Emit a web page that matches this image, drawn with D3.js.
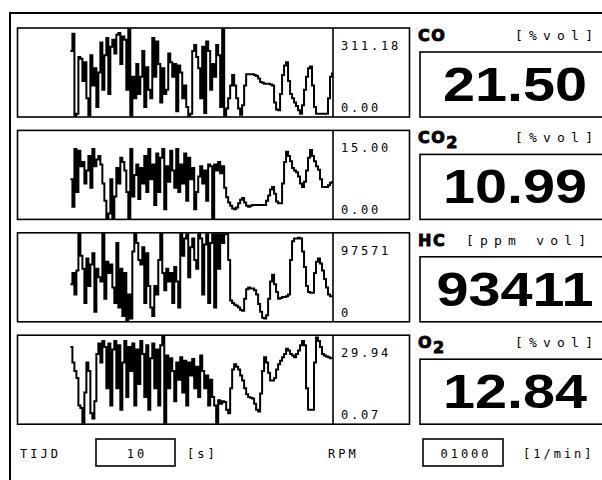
<!DOCTYPE html>
<html>
<head>
<meta charset="utf-8">
<script src="https://cdn.jsdelivr.net/npm/d3@7"></script>
<style>
  body { margin: 0; background: #fff; }
</style>
</head>
<body>
<div id="chart"></div>
<script>
// PANEL TEXTS
var gasNames = ["CO", "CO", "HC", "O"];
var gasSub = ["", "2", "", "2"];
var gasUnits = ["[%vol]", "[%vol]", "[ppm vol]", "[%vol]"];
var readings = ["21.50", "10.99", "93411", "12.84"];
var scaleMax = ["311.18", "15.00", "97571", "29.94"];
var scaleMin = ["0.00", "0.00", "0", "0.07"];

// TRACES, in % of full scale, newest sample last
var coTrace = [75, 95, 0, 2, 68, 66, 40, 62, 20, 0, 70, 35, 55, 10, 50, 85, 30, 70, 90, 25,
  80, 88, 72, 94, 96, 60, 92, 88, 30, 100, 0, 45, 20, 60, 25, 45, 75, 10, 56, 30,
  20, 90, 45, 86, 60, 15, 55, 25, 30, 72, 62, 45, 60, 5, 58, 50, 20, 35, 10, 0,
  2, 75, 82, 68, 55, 20, 80, 3, 86, 75, 30, 60, 45, 82, 70, 10, 100, 0,
  8, 20, 35, 47, 35, 20, 8, 1, 12, 35, 48, 48, 48, 48, 47, 46, 43, 39, 38, 37,
  37, 37, 36, 35, 15, 7, 6, 25, 47, 58, 62, 40, 25, 20, 15, 11, 6, 2, 12, 30,
  45, 55, 57, 35, 10, 2, 2, 2, 2, 2, 2, 20, 45, 50];

var co2Trace = [45, 13, 80, 30, 78, 60, 65, 40, 55, 72, 35, 80, 60, 68, 72, 62, 40, 20, 0, 5,
  45, 0, 25, 58, 40, 70, 65, 55, 30, 0, 80, 25, 50, 62, 22, 58, 40, 72, 30, 80,
  45, 62, 15, 75, 30, 70, 80, 10, 60, 42, 78, 55, 35, 80, 30, 62, 40, 75, 20, 70,
  45, 58, 10, 30, 48, 60, 40, 55, 20, 62, 60, 0, 62, 55, 65, 52, 60, 35,
  24, 18, 14, 11, 10, 12, 17, 21, 23, 18, 14, 13, 14, 15, 15, 15, 15, 15, 15, 15,
  20, 26, 33, 36, 28, 19, 17, 17, 40, 65, 77, 72, 66, 58, 55, 53, 48, 40, 36, 42,
  55, 70, 79, 72, 66, 60, 56, 45, 36, 36, 36, 38, 41, 43];

var hcTrace = [42, 55, 30, 58, 100, 75, 60, 20, 72, 40, 65, 78, 10, 60, 50, 45, 100, 25, 68, 55,
  65, 38, 20, 90, 15, 60, 5, 55, 0, 30, 2, 80, 100, 90, 70, 65, 85, 20, 78, 40,
  15, 5, 40, 30, 70, 100, 55, 35, 60, 45, 55, 20, 62, 45, 15, 100, 75, 95, 100, 50,
  85, 95, 70, 60, 100, 95, 30, 88, 100, 20, 90, 100, 15, 100, 60, 100, 90, 100,
  100, 70, 23, 20, 18, 17, 15, 12, 11, 25, 36, 38, 37, 37, 35, 30, 19, 10, 3, 2,
  6, 25, 45, 53, 42, 33, 25, 26, 27, 27, 28, 30, 70, 92, 95, 95, 96, 95, 80, 62,
  40, 33, 32, 32, 55, 68, 72, 66, 58, 48, 38, 30, 28, 27];

var o2Trace = [88, 70, 60, 52, 20, 17, 0, 35, 70, 60, 11, 5, 25, 80, 92, 70, 95, 88, 40, 92,
  20, 85, 95, 40, 90, 15, 70, 95, 30, 88, 60, 92, 20, 85, 45, 95, 80, 30, 90, 15,
  75, 92, 40, 85, 20, 90, 100, 0, 78, 40, 75, 60, 25, 70, 50, 76, 35, 72, 20, 70,
  55, 74, 40, 65, 30, 78, 60, 40, 55, 20, 50, 30, 20, 0, 26, 22, 25, 24,
  15, 11, 40, 62, 68, 65, 62, 55, 49, 40, 33, 30, 29, 28, 22, 15, 13, 34, 60, 76,
  70, 58, 49, 49, 52, 62, 68, 72, 76, 80, 86, 84, 80, 78, 76, 80, 84, 90, 95, 90,
  40, 15, 15, 15, 70, 99, 95, 88, 80, 78, 77, 76, 75, 74];

var traces = [coTrace, co2Trace, hcTrace, o2Trace];

// BOTTOM ROW
var timeLabel = "TIJD", timeValue = "10", timeUnit = "[s]";
var rpmLabel = "RPM", rpmValue = "01000", rpmUnit = "[1/min]";

var width = 602, height = 480;
var CAP = 158;                // sample slots across the plot
var mono = "'DejaVu Sans Mono', monospace";

var svg = d3.select("#chart")
  .append("svg")
    .attr("width", width)
    .attr("height", height)
    .style("display", "block");

svg.append("rect").attr("width", width).attr("height", height).attr("fill", "#fff");

// OUTER FRAME (right and bottom run off screen)
svg.append("path")
  .attr("d", "M10," + height + "V13H" + width)
  .attr("fill", "none")
  .attr("stroke", "#000")
  .attr("stroke-width", 2);

var x = d3.scaleLinear().domain([0, CAP - 1]).range([18.5, 332]);

traces.forEach(function(trace, i) {
  var top = 28 + i * 102.4;
  var bottom = top + 89;
  var g = svg.append("g");

  var y = d3.scaleLinear().domain([0, 100]).range([bottom - 1.5, top + 1.5]);
  var offset = CAP - trace.length;

  // chart frame
  g.append("rect")
    .attr("x", 17.5).attr("y", top)
    .attr("width", 392).attr("height", 89)
    .attr("fill", "none").attr("stroke", "#000").attr("stroke-width", 1.6);
  g.append("line")
    .attr("x1", 333).attr("x2", 333).attr("y1", top).attr("y2", bottom)
    .attr("stroke", "#000").attr("stroke-width", 1.6);

  var line = d3.line()
    .x(function(d, j) { return x(j + offset); })
    .y(function(d) { return y(d); })
    .curve(d3.curveStepAfter);

  g.append("path")
    .datum(trace)
    .attr("d", line)
    .attr("fill", "none")
    .attr("stroke", "#000")
    .attr("stroke-width", 2);

  // scale labels
  g.append("text").attr("x", 341).attr("y", top + 22)
    .attr("font-family", mono).attr("font-size", 12).attr("letter-spacing", 2.8)
    .text(scaleMax[i]);
  g.append("text").attr("x", 341).attr("y", top + 84)
    .attr("font-family", mono).attr("font-size", 12).attr("letter-spacing", 2.8)
    .text(scaleMin[i]);

  // gas name with subscript, drawn extra heavy
  var name = g.append("text").attr("x", 418).attr("y", top + 13)
    .attr("font-family", "'DejaVu Sans', sans-serif").attr("font-weight", "bold")
    .attr("font-size", 16).attr("letter-spacing", 1.5)
    .attr("stroke", "#000").attr("stroke-width", 0.9)
    .text(gasNames[i]);
  if (gasSub[i]) {
    name.append("tspan").attr("dy", 5).text(gasSub[i]);
  }

  // unit
  g.append("text").attr("x", i == 2 ? 466 : 515).attr("y", top + 12)
    .attr("font-family", mono).attr("font-size", 13).attr("letter-spacing", 6.2)
    .text(gasUnits[i]);

  // reading box
  g.append("rect")
    .attr("x", 420).attr("y", top + 24)
    .attr("width", 200).attr("height", 65)
    .attr("fill", "none").attr("stroke", "#000").attr("stroke-width", 1.6);
  g.append("g")
    .attr("transform", "translate(515," + (top + 73) + ") scale(1.2,1)")
    .append("text")
      .attr("text-anchor", "middle")
      .attr("font-family", "'Liberation Sans', Arial, sans-serif")
      .attr("font-weight", "bold")
      .attr("font-size", 48)
      .text(readings[i]);
});

// BOTTOM ROW
var rowY = 458;
function smallText(tx, txt, anchor) {
  svg.append("text").attr("x", tx).attr("y", rowY)
    .attr("font-family", mono).attr("font-size", 12).attr("letter-spacing", 3)
    .attr("text-anchor", anchor || "start")
    .text(txt);
}
svg.append("rect").attr("x", 96).attr("y", 439).attr("width", 79).attr("height", 27)
  .attr("fill", "none").attr("stroke", "#000").attr("stroke-width", 1.6);
svg.append("rect").attr("x", 423).attr("y", 439).attr("width", 80).attr("height", 27)
  .attr("fill", "none").attr("stroke", "#000").attr("stroke-width", 1.6);

smallText(20, timeLabel);
smallText(137, timeValue, "middle");
smallText(187, timeUnit);
smallText(328, rpmLabel);
smallText(466, rpmValue, "middle");
smallText(523, rpmUnit);
</script>
</body>
</html>
